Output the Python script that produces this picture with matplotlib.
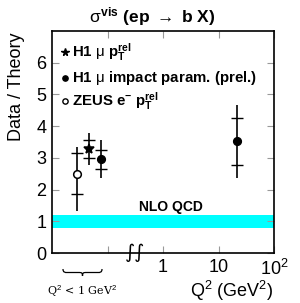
import numpy as np
import matplotlib
matplotlib.use("Agg")
import matplotlib.pyplot as plt
from matplotlib.path import Path
from matplotlib.patches import PathPatch

plt.rcParams['font.family'] = ['Liberation Sans', 'DejaVu Sans']
plt.rcParams['mathtext.fontset'] = 'custom'
plt.rcParams['mathtext.rm'] = 'Liberation Sans'
plt.rcParams['mathtext.it'] = 'Liberation Sans'
plt.rcParams['mathtext.bf'] = 'Liberation Sans:bold'

# data: Q2 position, value, stat error, total error
zeus_q2 = [0.028]
zeus_val = [2.5]
zeus_stat = [0.64]
zeus_tot_up = [0.83]
zeus_tot_dn = [1.17]

h1pt_q2 = [0.047]
h1pt_val = [3.27]
h1pt_stat = [0.28]
h1pt_tot = [0.5]

h1ip_q2 = [0.076, 21.5]
h1ip_val = [2.95, 3.52]
h1ip_stat = [0.3, 0.73]
h1ip_tot = [0.6, 1.16]

band_lo, band_hi = 0.8, 1.2

fig = plt.figure(figsize=(3.0, 3.03), dpi=100)
ax = fig.add_axes([52/300, 1-253/303, 222/300, 222/303])
ax.set_xscale('log')
ax.set_xlim(0.01, 100)
ax.set_ylim(0, 7)

ax.axhspan(band_lo, band_hi, color='#00ffff', lw=0)
ax.text(0.536, 1.45, 'NLO QCD', transform=ax.get_yaxis_transform(), ha='center', va='center',
        fontsize=10, fontweight='bold')

def draw(q2, val, stat, tot_up, tot_dn, marker, mfc, ms):
    ax.errorbar(q2, val, yerr=[tot_dn, tot_up], fmt='none', ecolor='black', elinewidth=1.2, capsize=0)
    ax.errorbar(q2, val, yerr=stat, fmt='none', ecolor='black', elinewidth=0, capsize=4.5, capthick=1.0)
    ax.plot(q2, val, marker, mfc=mfc, mec='black', mew=1.1, ms=ms, ls='none', zorder=5)

draw(zeus_q2, zeus_val, zeus_stat, zeus_tot_up, zeus_tot_dn, 'o', 'white', 5.5)
draw(h1pt_q2, h1pt_val, h1pt_stat, h1pt_tot, h1pt_tot, '*', 'black', 7.5)
draw(h1ip_q2, h1ip_val, h1ip_stat, h1ip_tot, h1ip_tot, 'o', 'black', 5.5)

# legend
leg_y = [0.905, 0.79, 0.683]
leg_marker = [('*', 'black', 5.5), ('o', 'black', 3.8), ('o', 'white', 3.8)]
leg_text = [r'H1 $\mu$ p$_\mathbf{T}^\mathbf{rel}$',
            r'H1 $\mu$ impact param. (prel.)',
            r'ZEUS e$^\mathbf{-}$ p$_\mathbf{T}^\mathbf{rel}$']
for y, (m, fc, s), t in zip(leg_y, leg_marker, leg_text):
    ax.plot([0.057], [y], m, mfc=fc, mec='black', mew=1, ms=s, transform=ax.transAxes)
    ax.text(0.09, y, t, transform=ax.transAxes, ha='left', va='center', fontsize=10.8, fontweight='bold')

ax.set_yticks(range(0, 7))
ax.set_xticks([0.1, 1, 10, 100])
ax.set_xticklabels(['', '1', '10', r'10$^\mathregular{2}$'])
ax.minorticks_off()
ax.tick_params(direction='in', length=5, width=0.8, color='#999999', labelsize=13,
               top=True, right=True, pad=4)
for s in ax.spines.values():
    s.set_linewidth(1.2)

# axis break mark
ax.text(0.374, 0.0, '\u222b\u222b', transform=ax.transAxes, ha='center', va='center',
        fontsize=14, family='DejaVu Sans')

fig.text(152/300, 1-17/303, r'$\sigma^{\mathbf{vis}}$ (ep $\rightarrow$ b X)', ha='center', va='center',
         fontsize=12.5, fontweight='bold')
fig.text(17/300, 1-87/303, 'Data / Theory', rotation=90, ha='center', va='center', fontsize=13)
fig.text(273/300, 1-291/303, r'Q$^\mathregular{2}$ (GeV$^\mathregular{2}$)', ha='right', va='center', fontsize=13)

# brace below the low-Q2 points (pixel coords, y downward)
def brace(x0, x1, y0, h):
    xm = (x0 + x1) / 2
    r = h / 2
    verts = [(x0, y0), (x0, y0 + r), (x0 + 2, y0 + r), (x0 + 4, y0 + r),
             (xm - 4, y0 + r),
             (xm - 1, y0 + r), (xm, y0 + r), (xm, y0 + h),
             (xm, y0 + r), (xm + 1, y0 + r), (xm + 4, y0 + r),
             (x1 - 4, y0 + r),
             (x1 - 2, y0 + r), (x1, y0 + r), (x1, y0)]
    codes = [Path.MOVETO, Path.CURVE4, Path.CURVE4, Path.CURVE4,
             Path.LINETO,
             Path.CURVE4, Path.CURVE4, Path.CURVE4,
             Path.CURVE4, Path.CURVE4, Path.CURVE4,
             Path.LINETO,
             Path.CURVE4, Path.CURVE4, Path.CURVE4]
    verts = [(x / 300, 1 - y / 303) for x, y in verts]
    return PathPatch(Path(verts, codes), fill=False, lw=0.9, transform=fig.transFigure)

fig.patches.append(brace(63, 102, 269, 7))
fig.text(82/300, 1-291/303, r'Q$^2$ < 1 GeV$^2$', ha='center', va='center', fontsize=8,
         family='DejaVu Serif')

fig.savefig('out.png', dpi=100)
